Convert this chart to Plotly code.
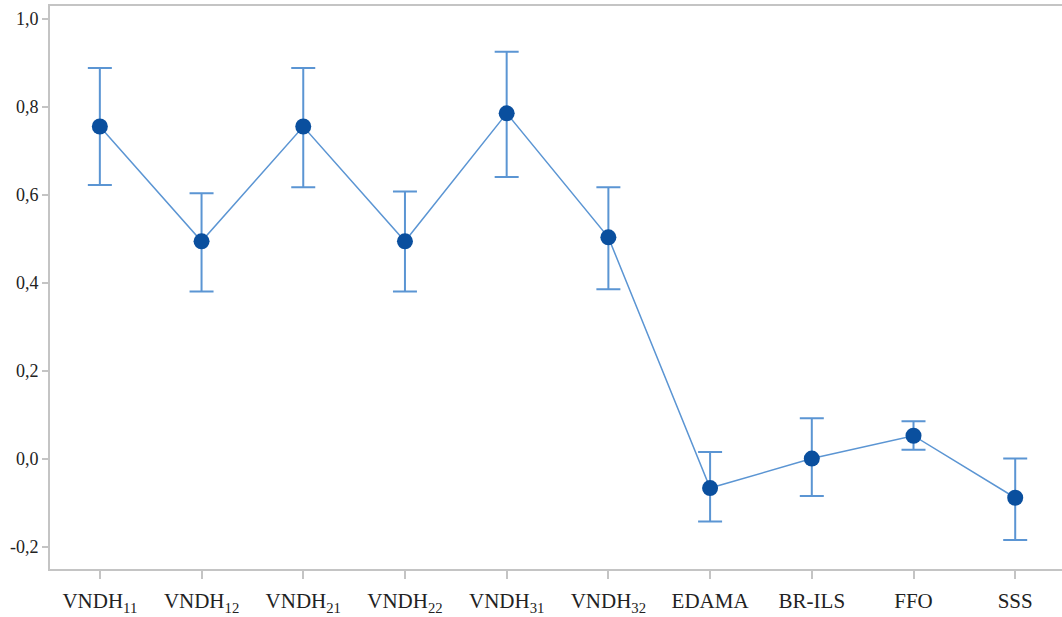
import plotly.graph_objects as go

categories = ["VNDH<sub>11</sub>", "VNDH<sub>12</sub>", "VNDH<sub>21</sub>", "VNDH<sub>22</sub>",
              "VNDH<sub>31</sub>", "VNDH<sub>32</sub>", "EDAMA", "BR-ILS", "FFO", "SSS"]
means = [0.755, 0.494, 0.755, 0.494, 0.785, 0.503, -0.067, 0.0, 0.052, -0.089]
upper = [0.888, 0.603, 0.888, 0.607, 0.925, 0.617, 0.015, 0.092, 0.085, 0.0]
lower = [0.622, 0.380, 0.617, 0.380, 0.640, 0.385, -0.143, -0.085, 0.020, -0.185]
y_ticks = [-0.2, 0.0, 0.2, 0.4, 0.6, 0.8, 1.0]
y_tick_labels = ["-0,2", "0,0", "0,2", "0,4", "0,6", "0,8", "1,0"]

err_plus = [u - m for u, m in zip(upper, means)]
err_minus = [m - l for m, l in zip(means, lower)]
xs = list(range(len(categories)))

fig = go.Figure()
fig.add_trace(go.Scatter(
    x=xs, y=means, mode="lines+markers",
    line=dict(color="#5b95d3", width=1.5),
    marker=dict(color="#0a4f9e", size=16),
    error_y=dict(type="data", symmetric=False, array=err_plus, arrayminus=err_minus,
                 color="#5b95d3", thickness=2, width=12),
    showlegend=False,
))

fig.update_layout(
    width=1062, height=617,
    margin=dict(l=50, r=0, t=6, b=48),
    paper_bgcolor="white", plot_bgcolor="white",
    font=dict(family="Liberation Serif, Times New Roman, serif", size=18, color="#222"),
    xaxis=dict(
        tickmode="array", tickvals=xs, ticktext=categories,
        range=[-0.49, 9.46], showgrid=False, zeroline=False, automargin=False,
        showline=True, linecolor="#c4c4c4", linewidth=2, mirror=True,
        ticks="outside", ticklen=8, tickcolor="#c4c4c4", tickwidth=2,
        ticklabelstandoff=4,
        tickfont=dict(size=21, color="#222"),
    ),
    yaxis=dict(
        tickmode="array", tickvals=y_ticks, ticktext=y_tick_labels,
        range=[-0.251, 1.029], showgrid=False, zeroline=False, automargin=False,
        showline=True, linecolor="#c4c4c4", linewidth=2, mirror=False,
        ticks="outside", ticklen=6, tickcolor="#c4c4c4", tickwidth=2,
        tickfont=dict(size=18, color="#222"),
    ),
)

post = ("document.body.style.margin='0';document.body.style.padding='0';"
        "document.body.style.overflow='hidden';"
        "var gd=document.getElementById('{plot_id}');"
        "Plotly.relayout(gd,{width:1062,height:617});")
fig.write_html("out.html", post_script=post, config={"displayModeBar": False})
